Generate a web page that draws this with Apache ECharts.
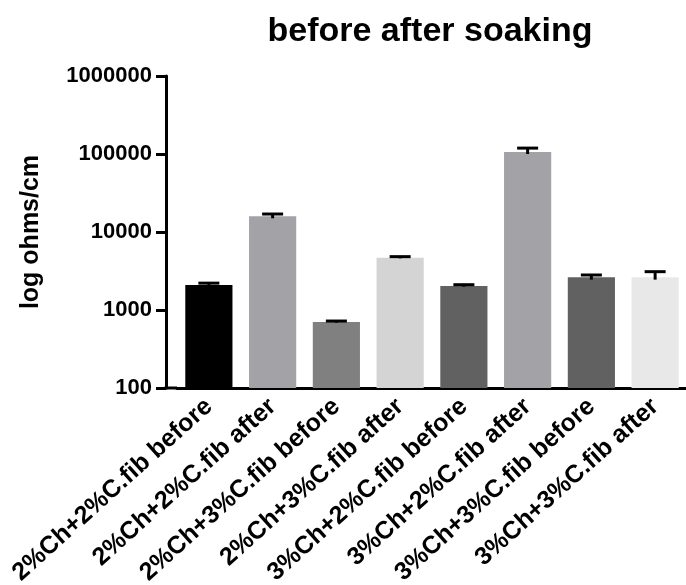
<!DOCTYPE html>
<html>
<head>
<meta charset="utf-8">
<script src="https://cdn.jsdelivr.net/npm/echarts@6/dist/echarts.min.js"></script>
<style>
  html, body { margin: 0; padding: 0; background: #fff; }
  #main { width: 686px; height: 585px; }
</style>
</head>
<body>
<div id="main"></div>
<script>
// 数据
var categories = ['2%Ch+2%C.fib before', '2%Ch+2%C.fib after', '2%Ch+3%C.fib before', '2%Ch+3%C.fib after',
                  '3%Ch+2%C.fib before', '3%Ch+2%C.fib after', '3%Ch+3%C.fib before', '3%Ch+3%C.fib after'];
var means = [2090, 15900, 702, 4690, 2030, 106000, 2620, 2620];
var errUp = [120, 1100, 20, 140, 80, 13000, 190, 480];
var errDown = [60, 900, 15, 100, 40, 6000, 170, 170];
var barColors = ['#000000', '#a3a2a7', '#808080', '#d4d4d4', '#616161', '#a3a2a7', '#616161', '#e8e8e8'];
var yTicks = [100, 1000, 10000, 100000, 1000000];

var FONT = '"Liberation Sans", Arial, sans-serif';

function initChart() {
	var myChart = echarts.init(document.getElementById('main'));

	var barData = means.map(function (v, i) {
		return { value: v, itemStyle: { color: barColors[i] } };
	});
	var errData = means.map(function (v, i) {
		return [i, v - errDown[i], v + errUp[i]];
	});

	var option = {
		animation: false,
		title: {
			text: 'before after soaking',
			left: 425,
			top: 10,
			textAlign: 'center',
			textStyle: { fontFamily: FONT, fontWeight: 'bold', fontSize: 34, color: '#000' }
		},
		grid: { left: 177, width: 510, top: 76, bottom: 197, containLabel: false, outerBoundsMode: 'none' },
		xAxis: {
			type: 'category',
			data: categories,
			axisLine: { lineStyle: { color: '#000', width: 3 } },
			axisTick: { alignWithLabel: true, length: 8, lineStyle: { color: '#000', width: 3 } },
			axisLabel: {
				rotate: 42,
				interval: 0,
				margin: 15,
				fontFamily: FONT,
				fontWeight: 'bold',
				fontSize: 25,
				color: '#000'
			}
		},
		yAxis: {
			type: 'log',
			logBase: 10,
			min: yTicks[0],
			max: yTicks[yTicks.length - 1],
			offset: 11,
			name: 'log ohms/cm',
			nameLocation: 'middle',
			nameRotate: 90,
			nameGap: 122,
			nameTextStyle: { fontFamily: FONT, fontWeight: 'bold', fontSize: 25, color: '#000' },
			axisLine: { show: true, lineStyle: { color: '#000', width: 3 } },
			axisTick: { show: true, length: 10, lineStyle: { color: '#000', width: 3 } },
			splitLine: { show: false },
			axisLabel: {
				margin: 14,
				fontFamily: FONT,
				fontWeight: 'bold',
				fontSize: 22,
				color: '#000',
				formatter: function (v) { return String(Math.round(v)); }
			}
		},
		series: [{
			type: 'bar',
			barWidth: '74%',
			data: barData
		}, {
			type: 'custom',
			data: errData,
			z: 5,
			renderItem: function (params, api) {
				var x = api.value(0);
				var lo = api.coord([x, api.value(1)]);
				var hi = api.coord([x, api.value(2)]);
				var half = 10.5;
				return {
					type: 'group',
					children: [{
						type: 'line',
						shape: { x1: lo[0], y1: lo[1], x2: hi[0], y2: hi[1] },
						style: { stroke: '#000', lineWidth: 3 }
					}, {
						type: 'line',
						shape: { x1: hi[0] - half, y1: hi[1], x2: hi[0] + half, y2: hi[1] },
						style: { stroke: '#000', lineWidth: 3 }
					}]
				};
			}
		}]
	};
	myChart.setOption(option);

	// x轴线向左延伸到y轴
	var y0 = myChart.convertToPixel({ yAxisIndex: 0 }, yTicks[0]);
	var gl = option.grid.left;
	myChart.setOption({
		graphic: [{
			type: 'line',
			shape: { x1: gl - option.yAxis.offset - 1.5, y1: y0, x2: gl, y2: y0 },
			style: { stroke: '#000', lineWidth: 3 }
		}]
	});
}

initChart();
</script>
</body>
</html>
